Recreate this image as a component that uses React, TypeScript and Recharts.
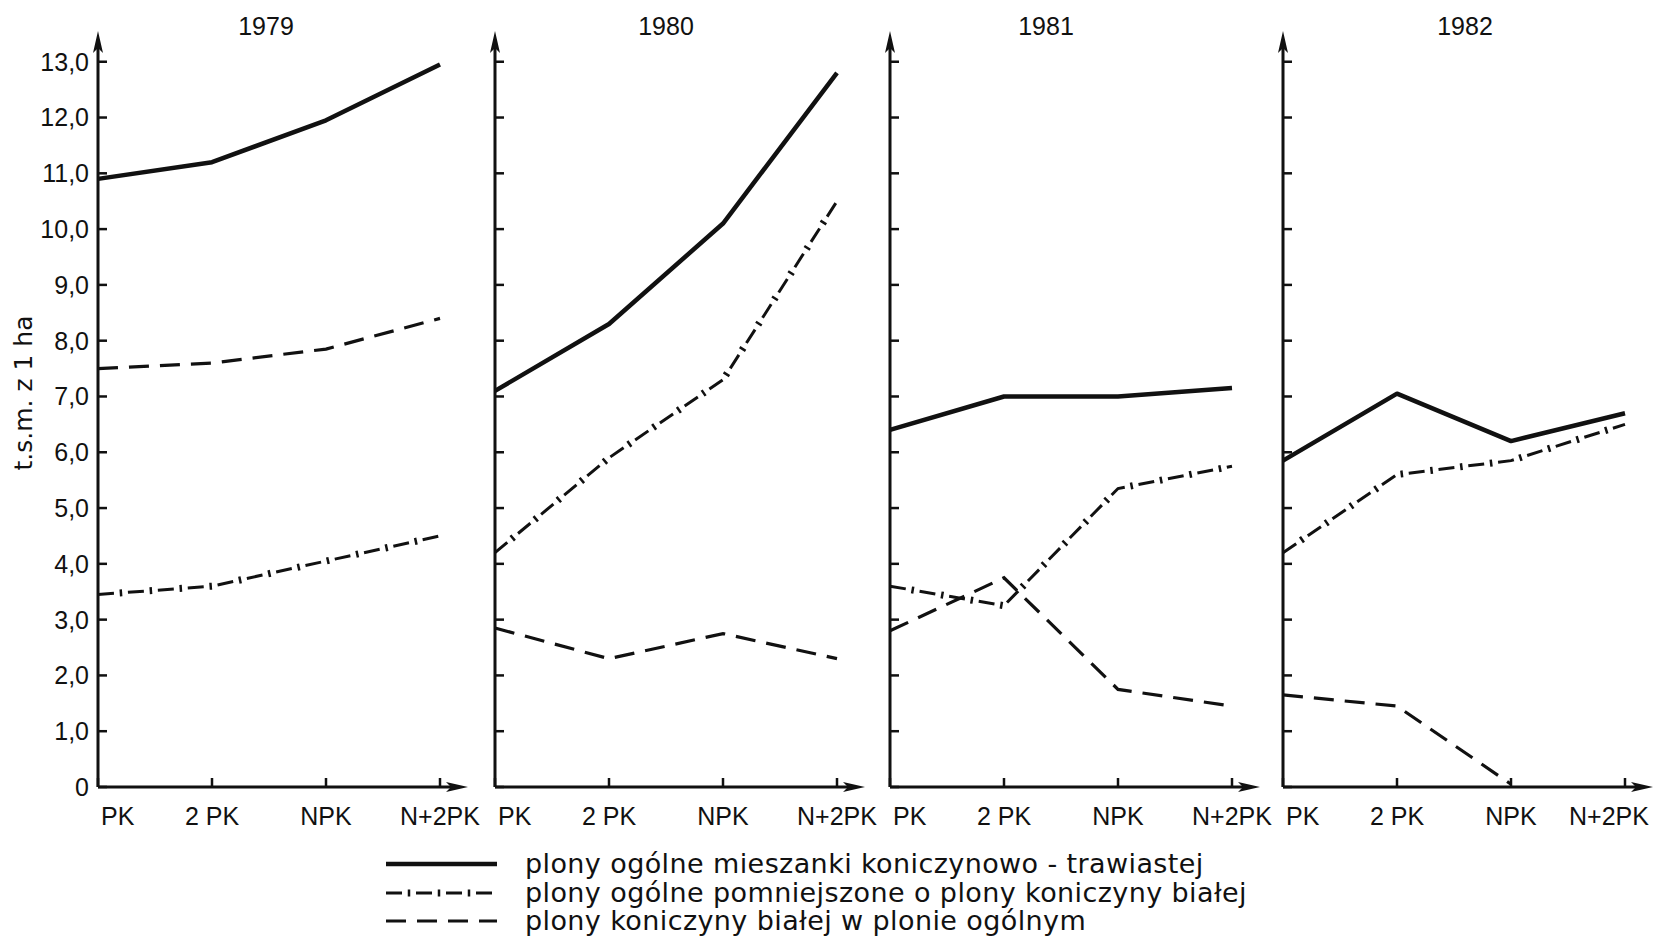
import { LineChart, Line, XAxis, YAxis, Label } from 'recharts'

const CATEGORIES = ['PK', '2 PK', 'NPK', 'N+2PK']
const YEARS = ['1979', '1980', '1981', '1982']
const Y_TICKS = [0, 1, 2, 3, 4, 5, 6, 7, 8, 9, 10, 11, 12, 13]

// plony ogólne mieszanki koniczynowo-trawiastej (one row per year)
const totalYield = [
  [10.9, 11.2, 11.95, 12.95],
  [7.1, 8.3, 10.1, 12.8],
  [6.4, 7.0, 7.0, 7.15],
  [5.85, 7.05, 6.2, 6.7],
]

// plony ogólne pomniejszone o plony koniczyny białej
const reducedYield = [
  [3.45, 3.6, 4.05, 4.5],
  [4.2, 5.9, 7.3, 10.5],
  [3.6, 3.25, 5.35, 5.75],
  [4.2, 5.6, 5.85, 6.5],
]

// plony koniczyny białej w plonie ogólnym
const cloverYield = [
  [7.5, 7.6, 7.85, 8.4],
  [2.85, 2.3, 2.75, 2.3],
  [2.8, 3.75, 1.75, 1.45],
  [1.65, 1.45, 0.05, null],
]

const LEGEND_LABELS = [
  'plony ogólne mieszanki koniczynowo - trawiastej',
  'plony ogólne pomniejszone o plony koniczyny białej',
  'plony koniczyny białej w plonie ogólnym',
]

// layout
const AXIS_X = [98, 495, 890, 1283]
const TITLE_X = [266, 666, 1046, 1465]
const INK = '#111'
const NUM_FONT = '"Liberation Sans", Arial, sans-serif'
const TEXT_FONT = '"DejaVu Sans", sans-serif'

function CatTick(props: any) {
  const { x, y, payload, index, lastShift } = props
  let anchor = 'middle'
  let dx = 0
  if (index === 0) {
    anchor = 'start'
    dx = 3
  } else if (index === CATEGORIES.length - 1) {
    dx = lastShift
  }
  return (
    <text x={x + dx} y={y} dy="0.71em" textAnchor={anchor} fontSize={25} fontFamily={NUM_FONT} fill={INK}>
      {payload.value}
    </text>
  )
}

function Panel({ idx }: { idx: number }) {
  const first = idx === 0
  const yW = first ? 98 : 12
  const data = CATEGORIES.map((cat, i) => ({
    cat,
    total: totalYield[idx][i],
    reduced: reducedYield[idx][i],
    clover: cloverYield[idx][i],
  }))
  const mid = `arrow-${idx}`

  return (
    <div style={{ position: 'absolute', left: AXIS_X[idx] - yW, top: 0 }}>
      <LineChart width={yW + 356 + 30} height={850} data={data} margin={{ top: 45, right: 30, bottom: 23, left: 0 }}>
        <defs>
          <marker id={mid} viewBox="0 0 22 10" refX={8} refY={5} markerWidth={22} markerHeight={10}
            markerUnits="userSpaceOnUse" orient="auto-start-reverse">
            <path d="M0,0 L22,5 L0,10 L5,5 z" fill={INK} />
          </marker>
        </defs>
        <XAxis
          dataKey="cat"
          interval={0}
          padding={{ left: 0, right: 14 }}
          height={40}
          axisLine={{ stroke: INK, strokeWidth: 3, markerEnd: `url(#${mid})` }}
          tickLine={{ stroke: INK, strokeWidth: 2.5 }}
          tickSize={-9}
          tickMargin={29}
          tick={<CatTick lastShift={idx === 3 ? -16 : 0} />}
        />
        <YAxis
          width={yW}
          domain={[0, 13.3]}
          ticks={Y_TICKS}
          interval={0}
          axisLine={{ stroke: INK, strokeWidth: 3, markerStart: `url(#${mid})` }}
          tickLine={{ stroke: INK, strokeWidth: 2.5 }}
          tickSize={-9}
          tickMargin={18}
          tick={{ fill: INK, fontSize: 25, fontFamily: NUM_FONT }}
          tickFormatter={(v: number) => (first ? (v === 0 ? '0' : v.toFixed(1).replace('.', ',')) : '')}
        >
          {first && (
            <Label
              content={() => (
                <text x={23} y={393} transform="rotate(-90 23 393)" textAnchor="middle" dominantBaseline="central"
                  fontSize={25} fontFamily={TEXT_FONT} fill={INK}>
                  t.s.m. z 1 ha
                </text>
              )}
            />
          )}
        </YAxis>
        <Line dataKey="total" type="linear" stroke={INK} strokeWidth={4.5} strokeLinejoin="round" dot={false} isAnimationActive={false} />
        <Line dataKey="reduced" type="linear" stroke={INK} strokeWidth={3} strokeDasharray="16 14" dot={false} isAnimationActive={false} />
        <Line dataKey="reduced" type="linear" stroke={INK} strokeWidth={7} strokeDasharray="0 21.75 2.5 5.75" dot={false} isAnimationActive={false} />
        <Line dataKey="clover" type="linear" stroke={INK} strokeWidth={3.2} strokeDasharray="20 11" dot={false} isAnimationActive={false} />
      </LineChart>
    </div>
  )
}

function LegendSample({ kind }: { kind: number }) {
  return (
    <svg width={111} height={20} style={{ display: 'block' }}>
      {kind === 0 && <line x1={0} y1={10} x2={111} y2={10} stroke={INK} strokeWidth={4.5} />}
      {kind === 1 && (
        <>
          <line x1={0} y1={10} x2={111} y2={10} stroke={INK} strokeWidth={3} strokeDasharray="16 14" />
          <line x1={0} y1={10} x2={111} y2={10} stroke={INK} strokeWidth={7} strokeDasharray="0 21.75 2.5 5.75" />
        </>
      )}
      {kind === 2 && <line x1={0} y1={10} x2={111} y2={10} stroke={INK} strokeWidth={3.2} strokeDasharray="20 11" />}
    </svg>
  )
}

export default function App() {
  return (
    <div style={{ position: 'absolute', left: 0, top: 0, width: 1657, height: 937, background: '#fff', overflow: 'hidden' }}>
      {YEARS.map((yr, i) => (
        <div key={yr} style={{
          position: 'absolute', left: TITLE_X[i] - 50, top: 12, width: 100, textAlign: 'center',
          fontFamily: NUM_FONT, fontSize: 25, lineHeight: '28px', color: INK,
        }}>
          {yr}
        </div>
      ))}
      {YEARS.map((yr, i) => <Panel key={yr} idx={i} />)}
      {LEGEND_LABELS.map((txt, i) => (
        <div key={txt} style={{
          position: 'absolute', left: 386, top: 851 + i * 28.5, height: 26, display: 'flex', alignItems: 'center',
          fontFamily: TEXT_FONT, fontSize: 27, lineHeight: '26px', color: INK, whiteSpace: 'nowrap',
        }}>
          <LegendSample kind={i} />
          <span style={{ marginLeft: 28, letterSpacing: 0.4 }}>{txt}</span>
        </div>
      ))}
    </div>
  )
}
